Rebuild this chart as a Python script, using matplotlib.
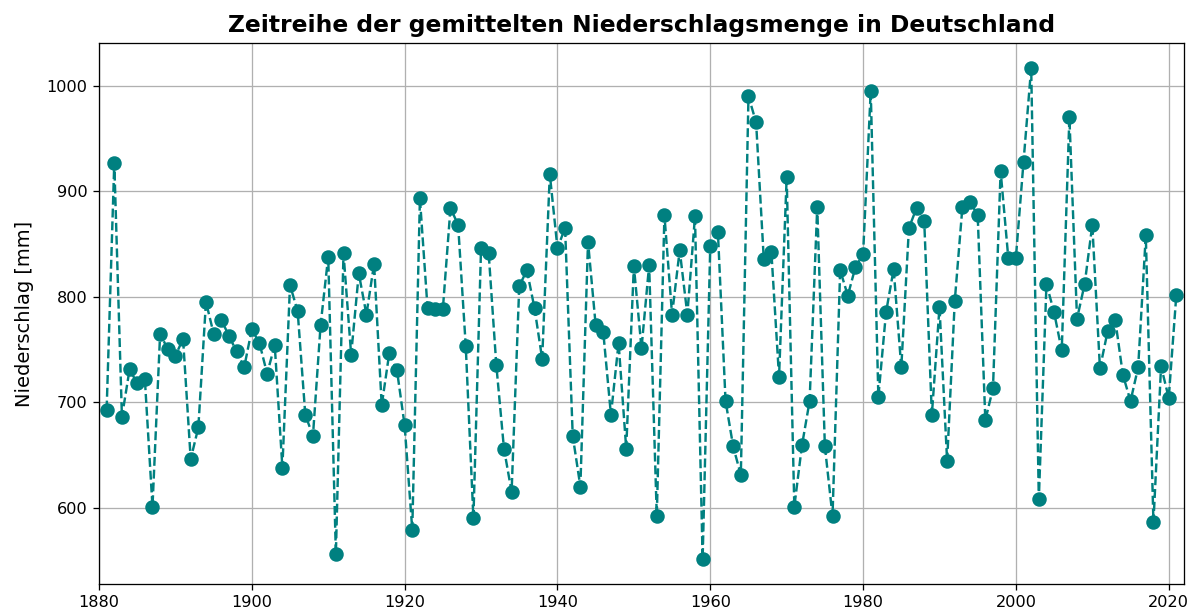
import matplotlib
matplotlib.use("Agg")
import matplotlib.pyplot as plt
import numpy as np

# Jahre 1881 - 2021
jahre = np.arange(1881, 2022)

# mittlere Niederschlagsmenge in mm
niederschlag = [
    693, 927, 686, 731, 718, 722, 601, 765, 750, 744,   # 1881-1890
    760, 646, 676, 795, 765, 778, 763, 748, 733, 769,   # 1891-1900
    756, 727, 754, 638, 811, 786, 688, 668, 773, 838,   # 1901-1910
    556, 841, 745, 822, 783, 831, 697, 747, 730, 678,   # 1911-1920
    579, 893, 789, 788, 788, 884, 868, 753, 590, 846,   # 1921-1930
    841, 735, 656, 615, 810, 825, 789, 741, 916, 846,   # 1931-1940
    865, 668, 620, 852, 773, 766, 688, 756, 656, 829,   # 1941-1950
    751, 830, 592, 877, 783, 844, 783, 876, 551, 848,   # 1951-1960
    861, 701, 658, 631, 990, 965, 836, 842, 724, 913,   # 1961-1970
    601, 659, 701, 885, 658, 592, 825, 801, 828, 840,   # 1971-1980
    995, 705, 785, 826, 733, 865, 884, 872, 688, 790,   # 1981-1990
    644, 796, 885, 890, 877, 683, 713, 919, 837, 837,   # 1991-2000
    928, 1017, 608, 812, 785, 749, 970, 779, 812, 868,  # 2001-2010
    732, 767, 778, 726, 701, 733, 858, 586, 734, 704,   # 2011-2020
    802,                                                # 2021
]

fig = plt.figure(figsize=(1196/116, 615/116), dpi=116)
ax = fig.add_axes([99/1196, 1-584/615, (1184-99)/1196, (584-43)/615])

ax.plot(jahre, niederschlag, 'o--', color='teal', linewidth=1.5, markersize=8)
ax.grid(True)
ax.set_xlim(1880, 2022)
ax.set_ylabel("Niederschlag [mm]", fontsize=12, labelpad=8)
ax.set_title("Zeitreihe der gemittelten Niederschlagsmenge in Deutschland",
             fontsize=14.5, fontweight='bold', pad=7)

fig.savefig("out.png", dpi=116)
